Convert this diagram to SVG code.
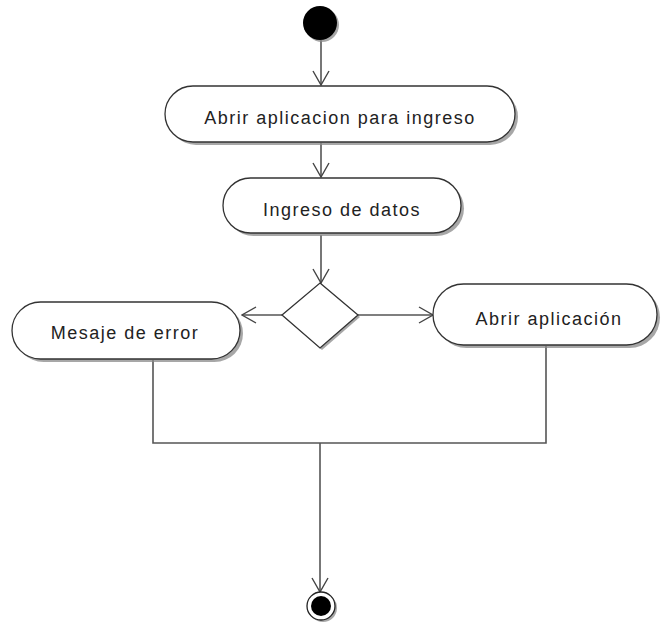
<svg xmlns="http://www.w3.org/2000/svg" width="662" height="625" viewBox="0 0 662 625">
<defs>
<style>
.node{fill:#fff;stroke:#333;stroke-width:1.3}
.shadow{fill:#8a8a8a;opacity:0.75}
.lbl{font-family:"Liberation Sans",Arial,sans-serif;font-size:18px;letter-spacing:1.5px;fill:#222;text-anchor:middle}
.conn{fill:none;stroke:#555;stroke-width:1.6}
</style>
<marker id="arr" viewBox="0 0 16 20" refX="15" refY="10" markerWidth="16" markerHeight="20" markerUnits="userSpaceOnUse" orient="auto">
<path d="M1,2 L15,10 L1,18" fill="none" stroke="#444" stroke-width="1.4"/>
</marker>
</defs>
<rect width="662" height="625" fill="#fff"/>
<g id="connectors">
<line class="conn" x1="321" y1="40" x2="321" y2="85" marker-end="url(#arr)"/>
<line class="conn" x1="321" y1="143" x2="321" y2="177" marker-end="url(#arr)"/>
<line class="conn" x1="321" y1="235" x2="321" y2="283" marker-end="url(#arr)"/>
<line class="conn" x1="282" y1="315" x2="242" y2="315" marker-end="url(#arr)"/>
<line class="conn" x1="358" y1="315" x2="433" y2="315" marker-end="url(#arr)"/>
<polyline class="conn" points="153,360 153,443 546,443 546,346"/>
<line class="conn" x1="320" y1="443" x2="320" y2="592" marker-end="url(#arr)"/>
</g>
<g id="start">
<circle cx="322" cy="25" r="17" class="shadow"/>
<circle cx="320" cy="23" r="17" fill="#000"/>
</g>
<g id="n1">
<rect x="168" y="89" width="350" height="56" rx="28" class="shadow"/>
<rect x="165" y="86" width="350" height="56" rx="28" class="node"/>
<text x="340" y="124" class="lbl">Abrir aplicacion para ingreso</text>
</g>
<g id="n2">
<rect x="226" y="181" width="238" height="55" rx="27.5" class="shadow"/>
<rect x="223" y="178" width="238" height="55" rx="27.5" class="node"/>
<text x="342" y="216" class="lbl">Ingreso de datos</text>
</g>
<g id="decision">
<polygon points="320,285 360,317 322,350 284,317" class="shadow"/>
<polygon points="320,283 358,315 320,348 282,315" class="node"/>
</g>
<g id="n3">
<rect x="15" y="305" width="228" height="57" rx="28.5" class="shadow"/>
<rect x="12" y="302" width="228" height="57" rx="28.5" class="node"/>
<text x="125" y="339" class="lbl">Mesaje de error</text>
</g>
<g id="n4">
<rect x="436" y="287" width="224" height="61" rx="30.5" class="shadow"/>
<rect x="433" y="284" width="224" height="61" rx="30.5" class="node"/>
<text x="549" y="325" class="lbl">Abrir aplicación</text>
</g>
<g id="end">
<circle cx="323" cy="608" r="14" class="shadow"/>
<circle cx="321" cy="606" r="14" fill="#fff" stroke="#222" stroke-width="1.3"/>
<circle cx="321" cy="606" r="10" fill="#000"/>
</g>
</svg>
